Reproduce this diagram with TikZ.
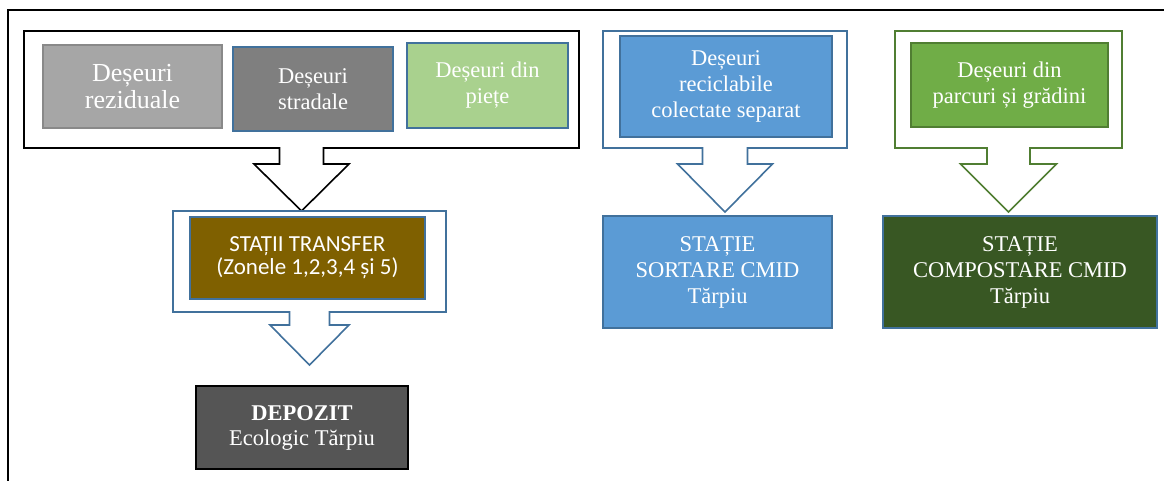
\documentclass[tikz,border=0pt]{standalone}
\usepackage{fontspec}
\setmainfont{Liberation Serif}
\newfontfamily\calibfont{Carlito}
\definecolor{edgeblue}{RGB}{65, 113, 156}
\definecolor{edgegreen}{RGB}{80, 126, 50}
\definecolor{edgegray}{RGB}{137, 137, 137}
\definecolor{rezgray}{RGB}{166, 166, 166}
\definecolor{strgray}{RGB}{127, 127, 127}
\definecolor{pietegreen}{RGB}{169, 209, 142}
\definecolor{recblue}{RGB}{91, 155, 213}
\definecolor{parkgreen}{RGB}{112, 173, 71}
\definecolor{transbrown}{RGB}{127, 96, 0}
\definecolor{depgray}{RGB}{85, 85, 85}
\definecolor{compgreen}{RGB}{56, 87, 35}
\usetikzlibrary{positioning, calc}

\begin{document}
\begin{tikzpicture}[x=1pt, y=-1pt,
  frame/.style={inner sep=0pt, outer sep=0pt},
  wbox/.style={line width=1.5pt, inner sep=0pt, outer sep=0pt, align=center, text=white, font=\fontsize{22.5}{26}\selectfont},
  calline/.style={line width=1.6pt, fill=white, line join=miter}
]
  \useasboundingbox (0,0) rectangle (1164,481);
  \draw[line width=2pt] (8,481) -- (8,10) -- (1164,10);

  % callout frames
  \node[frame, minimum width=555pt, minimum height=117pt] (srcA) at (301.5,89.5) {};
  \node[frame, minimum width=273pt, minimum height=101pt] (srcT) at (309.5,261.5) {};
  \node[frame, minimum width=244pt, minimum height=117pt] (srcR) at (725,89.5) {};
  \node[frame, minimum width=227pt, minimum height=117pt] (srcG) at (1008.5,89.5) {};

  \foreach \c/\s/\h/\t/\l/\col in {srcA/22/47.5/16/47/black, srcT/20/39.5/13/40/edgeblue, srcR/22.5/47.5/16/48/edgeblue, srcG/21.5/48/16/48/edgegreen}
    \draw[calline, draw=\col] (\c.south west) -- ($(\c.south)+(-\s,0)$) -- ($(\c.south)+(-\s,\t)$) -- ($(\c.south)+(-\h,\t)$)
      -- ($(\c.south)+(0,\t+\l)$) -- ($(\c.south)+(\h,\t)$) -- ($(\c.south)+(\s,\t)$) -- ($(\c.south)+(\s,0)$)
      -- (\c.south east) -- (\c.north east) -- (\c.north west) -- cycle;

  % boxes
  \node[wbox, draw=edgegray, fill=rezgray, minimum width=179pt, minimum height=83pt, font=\fontsize{26}{27}\selectfont]
    (rezid) at (132.5,86.5) {Deșeuri\\reziduale};
  \node[wbox, draw=edgeblue, fill=strgray, minimum width=160pt, minimum height=84pt] (strad) at (313,89) {Deșeuri\\stradale};
  \node[wbox, draw=edgeblue, fill=pietegreen, minimum width=161pt, minimum height=85pt] (piete) at (487.5,85.5) {Deșeuri din\\piețe};

  \node[wbox, draw=edgeblue, fill=transbrown, minimum width=235pt, minimum height=82pt, font=\calibfont\fontsize{23}{23}\selectfont]
    (trans) at (307.5,258) {STAȚII TRANSFER\\(Zonele 1,2,3,4 și 5)};
  \node[wbox, draw=black, fill=depgray, minimum width=212pt, minimum height=83pt, font=\fontsize{22.5}{25}\selectfont]
    (depo) at (302,427.5) {\textbf{DEPOZIT}\\Ecologic Tărpiu};

  \node[wbox, draw=edgeblue, fill=recblue, minimum width=212pt, minimum height=101pt] (recyc) at (726,86.5) {Deșeuri\\reciclabile\\colectate separat};
  \node[wbox, draw=edgeblue, fill=recblue, minimum width=229pt, minimum height=112pt] (sort) at (717.5,272) {STAȚIE\\SORTARE CMID\\Tărpiu};

  \node[wbox, draw=edgegreen, fill=parkgreen, minimum width=197pt, minimum height=84pt] (park) at (1009.5,85) {Deșeuri din\\parcuri și grădini};
  \node[wbox, draw=edgeblue, fill=compgreen, minimum width=274pt, minimum height=112pt] (comp) at (1020,272) {STAȚIE\\COMPOSTARE CMID\\Tărpiu};
\end{tikzpicture}
\end{document}
